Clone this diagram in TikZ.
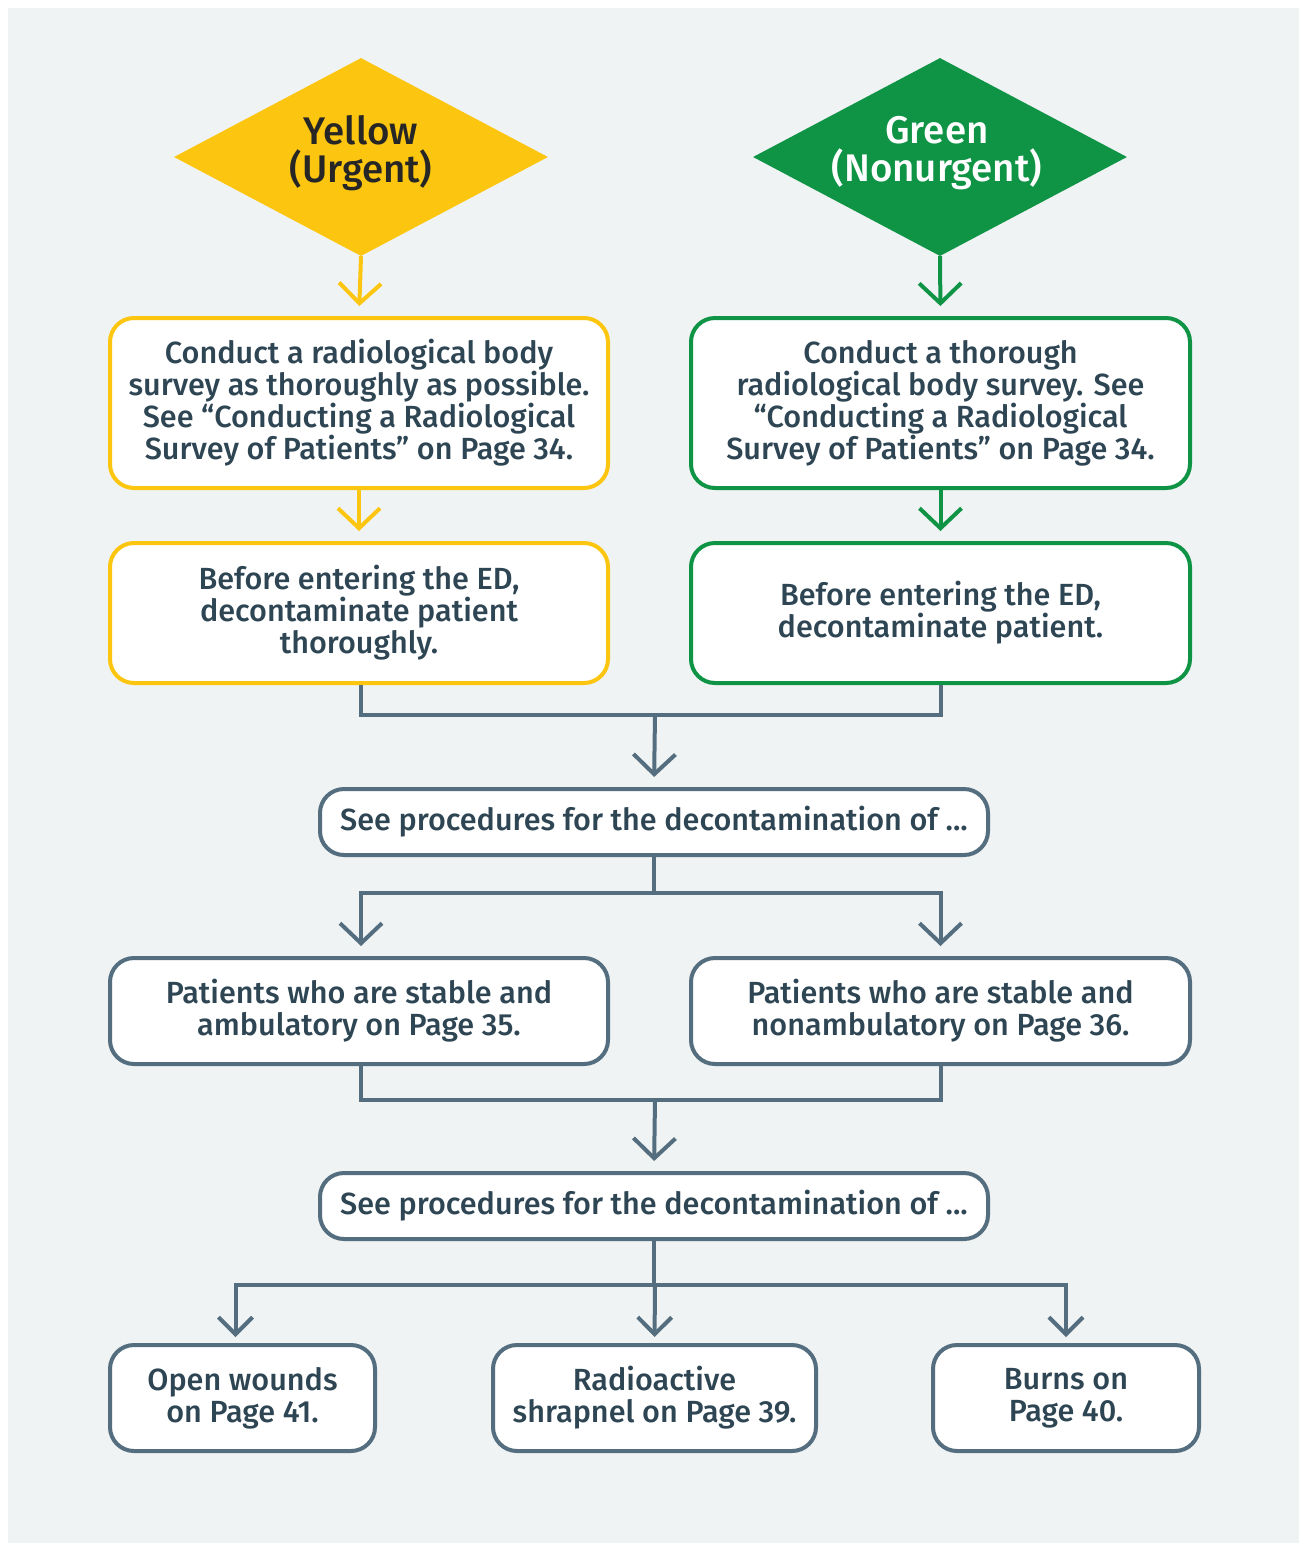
\documentclass[tikz,border=0pt]{standalone}
\usepackage{fontspec}
\setmainfont{Fira Sans}[UprightFont={* Medium}]
\usetikzlibrary{arrows.meta,shapes.geometric}
\definecolor{yel}{HTML}{FCC50F}
\definecolor{grn}{HTML}{0F9445}
\definecolor{slate}{HTML}{546E7F}
\definecolor{txt}{HTML}{2E4553}
\definecolor{panel}{HTML}{EFF3F4}
\tikzset{
  box/.style={rectangle, rounded corners=24pt, draw, line width=4pt, fill=white,
    align=center, text=txt, inner sep=0pt, font=\fontsize{30.6}{32}\selectfont},
  ybox/.style={box, draw=yel},
  gbox/.style={box, draw=grn},
  sbox/.style={box, draw=slate},
  diam/.style={diamond, aspect=1.89, minimum width=374pt, minimum height=198pt,
    inner sep=0pt},
  diamtext/.style={align=center, inner sep=0pt, font=\fontsize{38.5}{38}\selectfont},
  link/.style={line width=4pt, draw=slate},
  arr/.style={line width=4pt, -{Straight Barb[length=20pt,width=42pt]}, shorten >=10pt},
  smallarr/.style={line width=4pt, -{Straight Barb[length=17pt,width=34pt]}, shorten >=6pt},
}
\begin{document}
\begin{tikzpicture}[x=1pt, y=-1pt]
  \useasboundingbox (0,0) rectangle (1299,1543);
  \fill[panel] (8,8) rectangle (1299,1543);

  % triage categories
  \node[diam, fill=yel] (yd) at (361,157) {};
  \node[diamtext, text=black!85] (ydt) at (361,153) {Yellow\\(Urgent)};
  \node[diam, fill=grn] (gd) at (940,157) {};
  \node[diamtext, text=white] (gdt) at (937,153) {Green\\(Nonurgent)};

  % survey and decontamination steps
  \node[ybox, minimum width=498pt, minimum height=170pt] (y1) at (359,403)
    {Conduct a radiological body\\survey as thoroughly as possible.\\See “Conducting a Radiological\\Survey of Patients” on Page 34.};
  \node[gbox, minimum width=499pt, minimum height=170pt] (g1) at (940.5,403)
    {Conduct a thorough\\radiological body survey. See\\“Conducting a Radiological\\Survey of Patients” on Page 34.};
  \node[ybox, minimum width=498pt, minimum height=140pt] (y2) at (359,613)
    {Before entering the ED,\\decontaminate patient\\thoroughly.};
  \node[gbox, minimum width=499pt, minimum height=140pt] (g2) at (940.5,613)
    {Before entering the ED,\\decontaminate patient.};

  % procedures
  \node[sbox, minimum width=668pt, minimum height=66pt] (s1) at (654,822)
    {See procedures for the decontamination of ...};
  \node[sbox, minimum width=498pt, minimum height=106pt] (p1) at (359,1011)
    {Patients who are stable and\\ambulatory on Page 35.};
  \node[sbox, minimum width=499pt, minimum height=106pt] (p2) at (940.5,1011)
    {Patients who are stable and\\nonambulatory on Page 36.};
  \node[sbox, minimum width=668pt, minimum height=66pt] (s2) at (654,1206)
    {See procedures for the decontamination of ...};
  \node[sbox, minimum width=265pt, minimum height=106pt] (b1) at (242.5,1398)
    {Open wounds\\on Page 41.};
  \node[sbox, minimum width=323pt, minimum height=106pt] (b2) at (654.5,1398)
    {Radioactive\\shrapnel on Page 39.};
  \node[sbox, minimum width=266pt, minimum height=106pt] (b3) at (1066,1398)
    {Burns on\\Page 40.};

  % junction points
  \coordinate (m1) at (655,715);
  \coordinate (m2) at (655,893);
  \coordinate (m3) at (655,1100);
  \coordinate (m4) at (655,1285);

  % connectors
  \draw[arr, yel] (yd.south) -- (y1.north);
  \draw[arr, grn] (gd.south) -- (g1.north);
  \draw[arr, yel] (y1.south) -- (y2.north);
  \draw[arr, grn] (g1.south) -- (g2.north);

  \draw[link] ([xshift=2pt]y2.south) |- (m1) -| (g2.south);
  \draw[arr, slate] (m1) -- (s1.north);

  \draw[arr, slate] (s1.south) |- (m2) -| ([xshift=2pt]p1.north);
  \draw[arr, slate] (m2) -| (p2.north);

  \draw[link] ([xshift=2pt]p1.south) |- (m3) -| (p2.south);
  \draw[arr, slate] (m3) -- (s2.north);

  \draw[smallarr, slate] (s2.south) |- (m4) -| ([xshift=-7pt]b1.north);
  \draw[smallarr, slate] (m4) -- (b2.north);
  \draw[smallarr, slate] (m4) -| (b3.north);
\end{tikzpicture}
\end{document}
